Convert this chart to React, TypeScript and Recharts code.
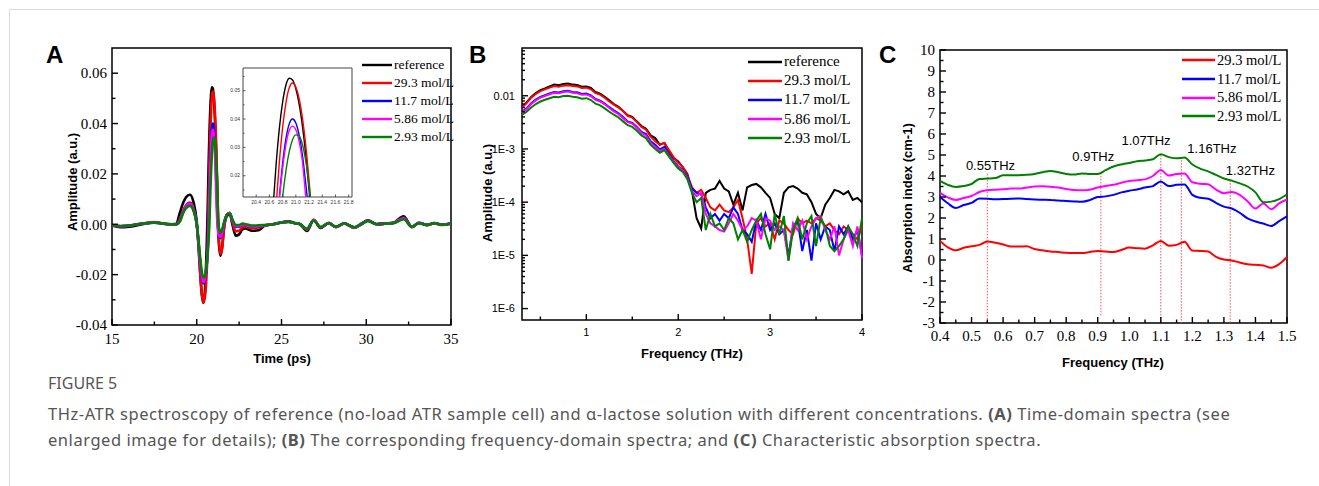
import React from "react";
import {
  LineChart,
  Line,
  XAxis,
  YAxis,
  ReferenceArea,
  ReferenceLine,
  ReferenceDot,
  Legend,
} from "recharts";

const SERIF = "'Liberation Serif', 'Times New Roman', serif";
const SANS = "'Liberation Sans', Arial, sans-serif";
const CAPTION_FONT = "'Noto Sans', 'Open Sans', sans-serif";

// series shared by the three panels
const seriesKeys = ["ref", "c29", "c11", "c5", "c2"];
const seriesNames = ["reference", "29.3 mol/L", "11.7 mol/L", "5.86 mol/L", "2.93 mol/L"];
const seriesColors = ["#000000", "#ff0000", "#0000ff", "#ff00ff", "#008000"];

// (A) time-domain spectra, time in ps
const timeA = [
  15.0, 15.5, 16.0, 16.5, 17.0, 17.5, 18.0, 18.5, 18.8, 19.0,
  19.2, 19.4, 19.6, 19.8, 20.0, 20.1, 20.2, 20.3, 20.4, 20.5,
  20.6, 20.65, 20.7, 20.75, 20.8, 20.85, 20.9, 20.95, 21.0, 21.05,
  21.1, 21.15, 21.2, 21.25, 21.3, 21.4, 21.5, 21.6, 21.8, 21.95,
  22.1, 22.3, 22.5, 22.7, 22.9, 23.1, 23.3, 23.5, 23.7, 24.0,
  24.5, 25.0, 25.4, 25.8, 26.1, 26.5, 26.9, 27.3, 27.8, 28.2,
  28.7, 29.3, 29.7, 30.1, 30.6, 31.1, 31.6, 32.2, 32.7, 33.1,
  33.6, 34.0, 34.5, 35.0,
];
const ampRef = [
  -0.0005, -0.0012, -0.001, -0.0004, 0.0003, 0.0006, 0.0002, 0.0, 0.0002, 0.0045,
  0.0085, 0.011, 0.0117, 0.009, 0.001, -0.008, -0.019, -0.028, -0.0312, -0.024,
  -0.006, 0.0072, 0.0236, 0.0366, 0.046, 0.052, 0.0544, 0.0538, 0.0507, 0.0453,
  0.0375, 0.0274, 0.015, 0.002, -0.007, -0.0126, -0.009, -0.002, 0.0035, 0.004,
  0.0, -0.0045, -0.004, -0.002, -0.0017, -0.0022, -0.0026, -0.0025, -0.0022, -0.0006,
  0.0, 0.0008, 0.0012, 0.0005, 0.0, -0.0027, 0.0016, -0.0015, 0.0005, -0.001,
  0.0004, -0.0012, 0.0002, 0.0016, 0.0001, 0.0003, 0.0006, 0.0032, -0.001, 0.0006,
  -0.0002, 0.0005, -0.0002, 0.0004,
];
const amp29 = [
  -0.0003, -0.0008, -0.0006, 0.0, 0.0005, 0.0009, 0.0003, 0.0, 0.0, 0.002,
  0.0055, 0.0078, 0.0086, 0.0065, 0.0, -0.008, -0.019, -0.0275, -0.031, -0.028,
  -0.017, -0.008, 0.009, 0.0247, 0.037, 0.0457, 0.051, 0.0527, 0.0513, 0.0472,
  0.0403, 0.0307, 0.0183, 0.0045, -0.005, -0.0118, -0.0095, -0.002, 0.004, 0.0046,
  0.001, -0.0028, -0.0026, -0.0012, -0.001, -0.0014, -0.0016, -0.0015, -0.0012, -0.0005,
  0.0, 0.0007, 0.001, 0.0004, 0.0, -0.0022, 0.0018, -0.0013, 0.0005, -0.0012,
  0.0003, -0.0014, 0.0, 0.0014, 0.0, 0.0002, 0.0005, 0.0026, -0.0012, 0.0005,
  -0.0004, 0.0004, -0.0003, 0.0003,
];
const amp11 = [
  -0.0003, -0.0008, -0.0006, 0.0, 0.0004, 0.0008, 0.0003, 0.0, 0.0, 0.0015,
  0.005, 0.0075, 0.0083, 0.006, 0.0, -0.007, -0.015, -0.021, -0.0235, -0.0215,
  -0.015, -0.009, 0.0, 0.0124, 0.0245, 0.0331, 0.0383, 0.04, 0.0386, 0.0343,
  0.0272, 0.0172, 0.0064, -0.001, -0.004, -0.0055, -0.0035, 0.0, 0.004, 0.0045,
  0.0015, -0.001, -0.001, 0.0, -0.0004, -0.0008, -0.001, -0.001, -0.0008, -0.0004,
  0.0, 0.0007, 0.001, 0.0004, 0.0, -0.002, 0.0017, -0.0012, 0.0005, -0.0011,
  0.0003, -0.0013, 0.0, 0.0014, 0.0, 0.0002, 0.0005, 0.0025, -0.0011, 0.0005,
  -0.0003, 0.0004, -0.0002, 0.0003,
];
const amp5 = [
  -0.0003, -0.0008, -0.0006, 0.0, 0.0004, 0.0008, 0.0003, 0.0, 0.0, 0.0015,
  0.005, 0.0074, 0.0082, 0.006, 0.0, -0.007, -0.015, -0.0205, -0.023, -0.021,
  -0.015, -0.01, -0.002, 0.0115, 0.0225, 0.031, 0.036, 0.0375, 0.0362, 0.032,
  0.025, 0.0125, 0.003, -0.002, -0.0045, -0.005, -0.0033, 0.0, 0.004, 0.0045,
  0.0015, -0.0008, -0.0008, 0.0, -0.0003, -0.0007, -0.0009, -0.0009, -0.0007, -0.0004,
  0.0, 0.0007, 0.001, 0.0004, 0.0, -0.002, 0.0017, -0.0012, 0.0005, -0.0011,
  0.0003, -0.0013, 0.0, 0.0014, 0.0, 0.0002, 0.0005, 0.0024, -0.0011, 0.0005,
  -0.0003, 0.0004, -0.0002, 0.0003,
];
const amp2 = [
  -0.0003, -0.0007, -0.0005, 0.0, 0.0004, 0.0007, 0.0003, 0.0, 0.0, 0.001,
  0.0045, 0.0066, 0.0073, 0.0055, 0.0, -0.006, -0.013, -0.019, -0.0212, -0.02,
  -0.015, -0.011, -0.006, 0.0007, 0.0125, 0.0217, 0.0285, 0.0327, 0.0344, 0.034,
  0.031, 0.0252, 0.0165, 0.005, -0.001, -0.0033, -0.002, 0.0005, 0.004, 0.0042,
  0.002, -0.0003, -0.0003, 0.0003, 0.0, -0.0003, -0.0005, -0.0005, -0.0004, -0.0003,
  0.0, 0.0006, 0.0009, 0.0004, 0.0, -0.0018, 0.0015, -0.0011, 0.0004, -0.001,
  0.0003, -0.0012, 0.0, 0.0013, 0.0, 0.0002, 0.0004, 0.002, -0.001, 0.0004,
  -0.0003, 0.0004, -0.0002, 0.0003,
];

// (B) frequency-domain spectra, THz
const freqB = [
  0.3, 0.35, 0.4, 0.45, 0.5, 0.55, 0.6, 0.65, 0.7, 0.75,
  0.8, 0.85, 0.9, 0.95, 1.0, 1.05, 1.1, 1.15, 1.2, 1.25,
  1.3, 1.35, 1.4, 1.45, 1.5, 1.55, 1.6, 1.65, 1.7, 1.75,
  1.8, 1.85, 1.9, 1.95, 2.0, 2.05, 2.1, 2.15, 2.2, 2.25,
  2.3, 2.35, 2.4, 2.45, 2.5, 2.55, 2.6, 2.65, 2.7, 2.75,
  2.8, 2.85, 2.9, 2.95, 3.0, 3.05, 3.1, 3.15, 3.2, 3.25,
  3.3, 3.35, 3.4, 3.45, 3.5, 3.55, 3.6, 3.65, 3.7, 3.75,
  3.8, 3.85, 3.9, 3.95, 4.0,
];
const specRef = [
  0.0062, 0.0075, 0.0095, 0.0112, 0.0128, 0.0138, 0.015, 0.0162, 0.0158, 0.0167,
  0.017, 0.0162, 0.016, 0.0148, 0.015, 0.014, 0.0118, 0.011, 0.0096, 0.0082,
  0.007, 0.0062, 0.0052, 0.0043, 0.004, 0.0033, 0.0027, 0.0024, 0.0018, 0.0016,
  0.0012, 0.0013, 0.0009, 0.00068, 0.00058, 0.00045, 0.00034, 0.00016, 0.00005, 0.000032,
  0.00015, 0.00017, 0.00018, 0.00025, 0.00018, 0.00016, 0.00009, 0.00015, 0.00007, 0.00019,
  0.00021, 0.00022, 0.00019, 0.00015, 0.00012, 0.00006, 0.00005, 0.00015, 0.00019, 0.0002,
  0.00018, 0.00015, 0.00014, 0.0001, 0.00006, 0.00005, 0.00009, 0.00012, 0.00017, 0.00016,
  0.00014, 0.00016, 0.00011, 0.00012, 0.0001,
];
const spec29 = [
  0.006, 0.0073, 0.0092, 0.0108, 0.0122, 0.0132, 0.0142, 0.0152, 0.0148, 0.0155,
  0.0158, 0.0152, 0.015, 0.014, 0.0142, 0.0132, 0.0112, 0.0105, 0.0092, 0.0078,
  0.0068, 0.006, 0.0051, 0.0042, 0.0039, 0.0032, 0.0026, 0.0023, 0.0017, 0.0014,
  0.0012, 0.0013, 0.00095, 0.0007, 0.00055, 0.00046, 0.00032, 0.00019, 0.00015, 0.00017,
  0.00012, 0.00008, 0.00007, 0.00009, 0.00007, 0.000065, 0.00008, 0.00011, 0.00005, 0.00002,
  0.0000045, 0.00004, 0.00005, 0.000035, 0.00004, 0.00002, 0.000045, 0.00004, 0.00003, 0.000025,
  0.00005, 0.00004, 0.000045, 0.00004, 0.00005, 0.000045, 0.000035, 0.00004, 0.00003, 0.000025,
  0.000035, 0.00003, 0.000025, 0.00002, 0.000035,
];
const spec11 = [
  0.005, 0.0058, 0.0072, 0.0085, 0.0095, 0.0102, 0.011, 0.0118, 0.0115, 0.0122,
  0.0124, 0.0118, 0.0116, 0.0108, 0.011, 0.0102, 0.0087, 0.0081, 0.0071, 0.0061,
  0.0053, 0.0047, 0.004, 0.0033, 0.0031, 0.0026, 0.0021, 0.0019, 0.0014, 0.0012,
  0.00098, 0.0011, 0.00078, 0.0006, 0.00047, 0.0004, 0.0003, 0.00018, 0.00015, 0.00014,
  0.00008, 0.00005, 0.00006, 0.000045, 0.00006, 0.00005, 0.00008, 0.00006, 0.00003, 0.000025,
  0.000018, 0.000045, 0.00003, 0.00006, 0.00003, 0.00004, 0.000025, 0.00003, 0.00001, 0.000035,
  0.000045, 0.000012, 0.00003, 0.000008, 0.00004, 0.00002, 0.000035, 0.00003, 0.000012, 0.000035,
  0.000025, 0.000035, 0.00002, 0.00003, 0.00001,
];
const spec5 = [
  0.0048, 0.0056, 0.007, 0.0082, 0.0092, 0.0099, 0.0107, 0.0114, 0.0111, 0.0118,
  0.012, 0.0114, 0.0112, 0.0104, 0.0106, 0.0098, 0.0084, 0.0078, 0.0069, 0.0059,
  0.0051, 0.0045, 0.0038, 0.0032, 0.003, 0.0025, 0.002, 0.0018, 0.0013, 0.0011,
  0.00092, 0.001, 0.00074, 0.00057, 0.00045, 0.00039, 0.00028, 0.00016, 0.00013, 0.00015,
  0.00006, 0.00004, 0.000035, 0.00003, 0.000028, 0.00004, 0.00006, 0.000045, 0.00003, 0.000035,
  0.00005, 0.000045, 0.00002, 0.00005, 0.000045, 0.00003, 0.000035, 0.00003, 0.000008, 0.00004,
  0.00003, 0.000045, 0.00002, 0.000035, 0.00005, 0.000055, 0.00003, 0.00002, 0.000035, 0.00001,
  0.00002, 0.00003, 0.000015, 0.000035, 0.000009,
];
const spec2 = [
  0.0044, 0.005, 0.006, 0.007, 0.0078, 0.0084, 0.009, 0.0096, 0.0094, 0.0099,
  0.01, 0.0096, 0.0094, 0.0088, 0.009, 0.0083, 0.0071, 0.0066, 0.0058, 0.005,
  0.0044, 0.0039, 0.0033, 0.0028, 0.0026, 0.0022, 0.0018, 0.0016, 0.0012, 0.001,
  0.00085, 0.00095, 0.00072, 0.00055, 0.00043, 0.00037, 0.00027, 0.00015, 0.0001, 0.00012,
  0.00003, 0.00006, 0.000035, 0.00004, 0.00003, 0.00005, 0.00004, 0.00002, 0.00003, 0.000018,
  0.00003, 0.000045, 0.00006, 0.000025, 0.000013, 0.00006, 0.000025, 0.000055, 0.000008, 0.00003,
  0.00005, 0.00002, 0.00004, 0.000055, 0.000015, 0.00005, 0.000035, 0.000015, 0.000012, 0.000015,
  0.00002, 0.000035, 0.000025, 0.000015, 0.00005,
];

// (C) absorption index, cm-1
const freqC = [
  0.4, 0.425, 0.45, 0.475, 0.5, 0.525, 0.55, 0.575, 0.6, 0.625,
  0.65, 0.675, 0.7, 0.725, 0.75, 0.775, 0.8, 0.825, 0.85, 0.875,
  0.9, 0.925, 0.95, 0.975, 1.0, 1.025, 1.05, 1.075, 1.1, 1.125,
  1.15, 1.175, 1.2, 1.225, 1.25, 1.275, 1.3, 1.325, 1.35, 1.375,
  1.4, 1.425, 1.45, 1.475, 1.5,
];
const abs29 = [
  0.91, 0.6, 0.46, 0.58, 0.65, 0.72, 0.88, 0.82, 0.74, 0.64,
  0.64, 0.65, 0.52, 0.46, 0.4, 0.38, 0.34, 0.33, 0.33, 0.38,
  0.43, 0.4, 0.38, 0.48, 0.59, 0.56, 0.54, 0.7, 0.91, 0.68,
  0.72, 0.87, 0.45, 0.43, 0.4, 0.15, 0.02, -0.02, -0.12, -0.2,
  -0.23, -0.26, -0.37, -0.2, 0.14,
];
const abs11 = [
  3.0, 2.7, 2.48, 2.62, 2.72, 2.93, 2.92, 2.89, 2.9, 2.92,
  2.93, 2.9, 2.88, 2.87, 2.86, 2.83, 2.81, 2.79, 2.77, 2.85,
  3.0, 3.03, 3.1, 3.22, 3.3, 3.36, 3.45, 3.52, 3.74, 3.52,
  3.58, 3.6, 3.1, 2.96, 2.92, 2.72, 2.54, 2.45, 2.25, 1.98,
  1.83, 1.74, 1.62, 1.85, 2.08,
];
const abs5 = [
  3.2, 2.98, 2.86, 2.95, 3.05, 3.24, 3.32, 3.35, 3.37, 3.4,
  3.4, 3.45, 3.5, 3.51, 3.49, 3.45, 3.38, 3.33, 3.32, 3.35,
  3.45, 3.52, 3.58, 3.68, 3.76, 3.8, 3.84, 4.0, 4.28, 4.02,
  4.1, 4.12, 3.7, 3.63, 3.61, 3.35, 3.18, 3.24, 3.1, 2.8,
  2.45, 2.69, 2.42, 2.7, 2.88,
];
const abs2 = [
  3.77, 3.58, 3.48, 3.52, 3.62, 3.86, 3.88, 3.9, 4.03, 4.04,
  4.04, 4.06, 4.1, 4.18, 4.24, 4.18, 4.1, 4.07, 4.12, 4.1,
  4.09, 4.28, 4.45, 4.55, 4.62, 4.7, 4.74, 4.8, 5.03, 4.9,
  4.84, 4.88, 4.55, 4.35, 4.22, 4.05, 3.88, 3.78, 3.65, 3.5,
  3.22, 2.75, 2.78, 2.9, 3.13,
];

// marked peaks in (C)
const peakFreq = [0.55, 0.91, 1.1, 1.165, 1.32];
const peakTop = [4.1, 4.15, 5.0, 4.9, 3.8];
const peakBottom = [-3, -2.7, -3, -3, -3];
const peakLabels = ["0.55THz", "0.9THz", "1.07THz", "1.16THz", "1.32THz"];
const peakLabelX = [0.56, 0.886, 1.053, 1.262, 1.384];
const peakLabelY = [4.52, 4.92, 5.71, 5.31, 4.28];

// ticks
const xTicksA = [15, 17.5, 20, 22.5, 25, 27.5, 30, 32.5, 35];
const xMajorA = [15, 20, 25, 30, 35];
const yTicksA = [-0.04, -0.03, -0.02, -0.01, 0, 0.01, 0.02, 0.03, 0.04, 0.05, 0.06];
const yMajorA = [-0.04, -0.02, 0, 0.02, 0.04, 0.06];
const xTicksIn = [20.4, 20.6, 20.8, 21.0, 21.2, 21.4, 21.6, 21.8];
const yTicksIn = [0.015, 0.02, 0.025, 0.03, 0.035, 0.04, 0.045, 0.05, 0.055];
const yMajorIn = [0.02, 0.03, 0.04, 0.05];
const xTicksB = [0.5, 1, 1.5, 2, 2.5, 3, 3.5, 4];
const xMajorB = [1, 2, 3, 4];
const yMajorB = [1e-6, 1e-5, 1e-4, 1e-3, 0.01];
const yLabelB = ["1E-6", "1E-5", "1E-4", "1E-3", "0.01"];
const yTicksB = yMajorB
  .flatMap((m) => [1, 2, 3, 4, 5, 6, 7, 8, 9].map((k) => m * k))
  .filter((v) => v <= 0.078);
const xMajorC = [0.4, 0.5, 0.6, 0.7, 0.8, 0.9, 1.0, 1.1, 1.2, 1.3, 1.4, 1.5];
const xTicksC = [
  0.4, 0.45, 0.5, 0.55, 0.6, 0.65, 0.7, 0.75, 0.8, 0.85, 0.9, 0.95,
  1.0, 1.05, 1.1, 1.15, 1.2, 1.25, 1.3, 1.35, 1.4, 1.45, 1.5,
];
const yMajorC = [-3, -2, -1, 0, 1, 2, 3, 4, 5, 6, 7, 8, 9, 10];
const yTicksC = [
  -3, -2.5, -2, -1.5, -1, -0.5, 0, 0.5, 1, 1.5, 2, 2.5, 3, 3.5, 4, 4.5,
  5, 5.5, 6, 6.5, 7, 7.5, 8, 8.5, 9, 9.5, 10,
];

const rowsA = timeA.map((t, i) => ({
  t, ref: ampRef[i], c29: amp29[i], c11: amp11[i], c5: amp5[i], c2: amp2[i],
}));
const rowsB = freqB.map((f, i) => ({
  f, ref: specRef[i], c29: spec29[i], c11: spec11[i], c5: spec5[i], c2: spec2[i],
}));
const rowsC = freqC.map((f, i) => ({
  f, c29: abs29[i], c11: abs11[i], c5: abs5[i], c2: abs2[i],
}));

const isMajor = (majors: number[], v: number) =>
  majors.some((m) => Math.abs(m - v) <= 1e-9 + 1e-6 * Math.abs(m));

type TickCfg = {
  majors: number[];
  fmt: (v: number) => string;
  font: string;
  size: number;
  gap: number;
  len?: number;
  minorLen?: number;
  sw?: number;
  color?: string;
  textColor?: string;
};

// ticks point inward, like the Origin plots
const bottomTick = (c: TickCfg) => (p: any) => {
  const { x, y, payload } = p;
  const mj = isMajor(c.majors, payload.value);
  return (
    <g>
      <line x1={x} x2={x} y1={y} y2={y - (mj ? c.len ?? 6 : c.minorLen ?? 3.5)}
        stroke={c.color ?? "#000"} strokeWidth={c.sw ?? 1.4} />
      {mj && (
        <text x={x} y={y + c.gap} dy="0.71em" textAnchor="middle" fontFamily={c.font}
          fontSize={c.size} fill={c.textColor ?? "#000"}>
          {c.fmt(payload.value)}
        </text>
      )}
    </g>
  );
};

const leftTick = (c: TickCfg) => (p: any) => {
  const { x, y, payload } = p;
  const mj = isMajor(c.majors, payload.value);
  return (
    <g>
      <line x1={x} x2={x + (mj ? c.len ?? 6 : c.minorLen ?? 3.5)} y1={y} y2={y}
        stroke={c.color ?? "#000"} strokeWidth={c.sw ?? 1.4} />
      {mj && (
        <text x={x - c.gap} y={y} dy="0.35em" textAnchor="end" fontFamily={c.font}
          fontSize={c.size} fill={c.textColor ?? "#000"}>
          {c.fmt(payload.value)}
        </text>
      )}
    </g>
  );
};

const LegendBox = ({ payload, lineLen, rowH, fontSize }: any) => {
  const items = [...(payload || [])].sort(
    (a: any, b: any) => seriesNames.indexOf(a.value) - seriesNames.indexOf(b.value)
  );
  return (
    <div>
      {items.map((it: any) => (
        <div key={it.value} style={{ display: "flex", alignItems: "center", height: rowH }}>
          <svg width={lineLen} height={6}>
            <line x1={0} x2={lineLen} y1={3} y2={3} stroke={it.color} strokeWidth={2.4} />
          </svg>
          <span style={{ marginLeft: 2, fontFamily: SERIF, fontSize, lineHeight: 1, whiteSpace: "nowrap", color: "#000" }}>
            {it.value}
          </span>
        </div>
      ))}
    </div>
  );
};

// axes are 1px thick so that Recharts still draws them; margins compensate
const PanelA = () => (
  <div style={{ position: "absolute", left: 0, top: 0 }}>
    <LineChart width={470} height={380} data={rowsA} margin={{ top: 48, right: 19, bottom: 54, left: 111 }}>
      <XAxis dataKey="t" type="number" domain={[15, 35]} ticks={xTicksA} interval={0}
        tickSize={0} tickMargin={0} height={1} axisLine={false} tickLine={false}
        tick={bottomTick({ majors: xMajorA, fmt: (v) => String(v), font: SERIF, size: 15, gap: 8 })} />
      <YAxis type="number" domain={[-0.04, 0.07]} ticks={yTicksA} interval={0}
        tickSize={0} tickMargin={0} width={1} axisLine={false} tickLine={false}
        tick={leftTick({ majors: yMajorA, fmt: (v) => v.toFixed(2), font: SERIF, size: 15, gap: 5 })} />
      <ReferenceArea x1={15} x2={35} y1={-0.04} y2={0.07} fill="none" stroke="#000" strokeWidth={1.5} />
      {seriesKeys.map((k, i) => (
        <Line key={k} type="monotone" dataKey={k} name={seriesNames[i]} stroke={seriesColors[i]}
          strokeWidth={2.6} dot={false} isAnimationActive={false} />
      ))}
      <Legend layout="vertical" align="center" verticalAlign="middle"
        wrapperStyle={{ left: 362, top: 56, width: "auto" }}
        content={(p: any) => <LegendBox payload={p.payload} lineLen={30} rowH={18} fontSize={13.5} />} />
    </LineChart>
  </div>
);

const InsetA = () => (
  <div style={{ position: "absolute", left: 200, top: 58 }}>
    <LineChart width={162} height={152} data={rowsA} margin={{ top: 10, right: 10, bottom: 12, left: 42 }}>
      <XAxis dataKey="t" type="number" domain={[20.2, 21.85]} allowDataOverflow ticks={xTicksIn}
        interval={0} tickSize={0} tickMargin={0} height={1} axisLine={false} tickLine={false}
        tick={bottomTick({ majors: xTicksIn, fmt: (v) => v.toFixed(1), font: SANS, size: 5, gap: 3, len: 2.5, sw: 0.8, color: "#333", textColor: "#333" })} />
      <YAxis type="number" domain={[0.0125, 0.058]} allowDataOverflow ticks={yTicksIn} interval={0}
        tickSize={0} tickMargin={0} width={1} axisLine={false} tickLine={false}
        tick={leftTick({ majors: yMajorIn, fmt: (v) => v.toFixed(2), font: SANS, size: 5, gap: 3, len: 2.5, minorLen: 1.5, sw: 0.8, color: "#333", textColor: "#333" })} />
      <ReferenceArea x1={20.2} x2={21.85} y1={0.0125} y2={0.058} fill="#fff" fillOpacity={1} stroke="#444" strokeWidth={1} />
      {seriesKeys.map((k, i) => (
        <Line key={k} type="monotone" dataKey={k} name={seriesNames[i]} stroke={seriesColors[i]}
          strokeWidth={1.4} dot={false} isAnimationActive={false} />
      ))}
    </LineChart>
  </div>
);

const PanelB = () => (
  <div style={{ position: "absolute", left: 470, top: 0 }}>
    <LineChart width={410} height={380} data={rowsB} margin={{ top: 48, right: 18, bottom: 59, left: 51 }}>
      <XAxis dataKey="f" type="number" domain={[0.3, 4]} ticks={xTicksB} interval={0}
        tickSize={0} tickMargin={0} height={1} axisLine={false} tickLine={false}
        tick={bottomTick({ majors: xMajorB, fmt: (v) => String(v), font: SANS, size: 11, gap: 8 })} />
      <YAxis type="number" scale="log" domain={[6.1e-7, 0.079]} allowDataOverflow ticks={yTicksB}
        interval={0} tickSize={0} tickMargin={0} width={1} axisLine={false} tickLine={false}
        tick={leftTick({
          majors: yMajorB,
          fmt: (v) => yLabelB[yMajorB.findIndex((m) => isMajor([m], v))],
          font: SANS, size: 11, gap: 7, minorLen: 3,
        })} />
      <ReferenceArea x1={0.3} x2={4} y1={6.1e-7} y2={0.079} fill="none" stroke="#000" strokeWidth={1.5} />
      {seriesKeys.map((k, i) => (
        <Line key={k} type="linear" dataKey={k} name={seriesNames[i]} stroke={seriesColors[i]}
          strokeWidth={2} dot={false} isAnimationActive={false} />
      ))}
      <Legend layout="vertical" align="center" verticalAlign="middle"
        wrapperStyle={{ left: 278, top: 52, width: "auto" }}
        content={(p: any) => <LegendBox payload={p.payload} lineLen={34} rowH={19.2} fontSize={15} />} />
    </LineChart>
  </div>
);

const PanelC = () => (
  <div style={{ position: "absolute", left: 880, top: 0 }}>
    <LineChart width={439} height={380} data={rowsC} margin={{ top: 50, right: 32, bottom: 56, left: 59 }}>
      <XAxis dataKey="f" type="number" domain={[0.4, 1.5]} ticks={xTicksC} interval={0}
        tickSize={0} tickMargin={0} height={1} axisLine={false} tickLine={false}
        tick={bottomTick({ majors: xMajorC, fmt: (v) => v.toFixed(1), font: SERIF, size: 15, gap: 7.5 })} />
      <YAxis type="number" domain={[-3, 10]} ticks={yTicksC} interval={0}
        tickSize={0} tickMargin={0} width={1} axisLine={false} tickLine={false}
        tick={leftTick({ majors: yMajorC, fmt: (v) => String(v), font: SERIF, size: 15, gap: 5 })} />
      <ReferenceArea x1={0.4} x2={1.5} y1={-3} y2={10} fill="none" stroke="#000" strokeWidth={1.5} />
      {peakFreq.map((f, i) => (
        <ReferenceLine key={"pk" + i}
          segment={[{ x: f, y: peakTop[i] }, { x: f, y: peakBottom[i] }]}
          stroke="#ff5050" strokeWidth={1} strokeDasharray="1.5 1.5" />
      ))}
      {seriesKeys.slice(1).map((k, i) => (
        <Line key={k} type="monotone" dataKey={k} name={seriesNames[i + 1]} stroke={seriesColors[i + 1]}
          strokeWidth={2} dot={false} isAnimationActive={false} />
      ))}
      {peakLabels.map((s, i) => (
        <ReferenceDot key={"lb" + i} x={peakLabelX[i]} y={peakLabelY[i]} r={0} fill="none" stroke="none"
          label={{ value: s, position: "center", fontSize: 13, fontFamily: SANS, fill: "#000" }} />
      ))}
      <Legend layout="vertical" align="center" verticalAlign="middle"
        wrapperStyle={{ left: 302, top: 50.6, width: "auto" }}
        content={(p: any) => <LegendBox payload={p.payload} lineLen={33} rowH={18.8} fontSize={14.5} />} />
    </LineChart>
  </div>
);

const titleStyle = { fontFamily: SANS, fontWeight: 700, fontSize: 13, fill: "#000" } as const;

export default function App() {
  return (
    <div style={{ position: "absolute", left: 0, top: 0, width: 1319, height: 486, background: "#fff", overflow: "hidden" }}>
      <div style={{ position: "absolute", left: 9, top: 9, width: 1310, height: 477, borderTop: "1px solid #dcdcdc", borderLeft: "1px solid #dcdcdc" }} />
      <PanelA />
      <InsetA />
      <PanelB />
      <PanelC />
      <svg width={1319} height={486} style={{ position: "absolute", left: 0, top: 0, pointerEvents: "none" }}>
        <text x={46} y={63} fontFamily={SANS} fontWeight={700} fontSize={24}>A</text>
        <text x={469} y={63} fontFamily={SANS} fontWeight={700} fontSize={24}>B</text>
        <text x={879} y={63} fontFamily={SANS} fontWeight={700} fontSize={24}>C</text>
        <text transform="translate(72,182) rotate(-90)" textAnchor="middle" dy="0.35em" {...titleStyle}>Amplitude (a.u.)</text>
        <text x={282} y={363} textAnchor="middle" {...titleStyle}>Time (ps)</text>
        <text transform="translate(487,193) rotate(-90)" textAnchor="middle" dy="0.35em" {...titleStyle}>Amplitude (a.u.)</text>
        <text x={692} y={358} textAnchor="middle" {...titleStyle}>Frequency (THz)</text>
        <text transform="translate(907,198) rotate(-90)" textAnchor="middle" dy="0.35em" {...titleStyle}>Absorption index (cm-1)</text>
        <text x={1113} y={367} textAnchor="middle" {...titleStyle}>Frequency (THz)</text>
      </svg>
      <div style={{ position: "absolute", left: 48, top: 372, fontFamily: CAPTION_FONT, color: "#555", fontSize: 16, lineHeight: "22px" }}>
        FIGURE 5
      </div>
      <div style={{ position: "absolute", left: 48, top: 401, fontFamily: CAPTION_FONT, color: "#555", fontSize: 16.5, letterSpacing: 0.55, lineHeight: "26px", whiteSpace: "nowrap" }}>
        THz-ATR spectroscopy of reference (no-load ATR sample cell) and α-lactose solution with different concentrations. <b>(A)</b> Time-domain spectra (see
        <br />
        enlarged image for details); <b>(B)</b> The corresponding frequency-domain spectra; and <b>(C)</b> Characteristic absorption spectra.
      </div>
    </div>
  );
}
